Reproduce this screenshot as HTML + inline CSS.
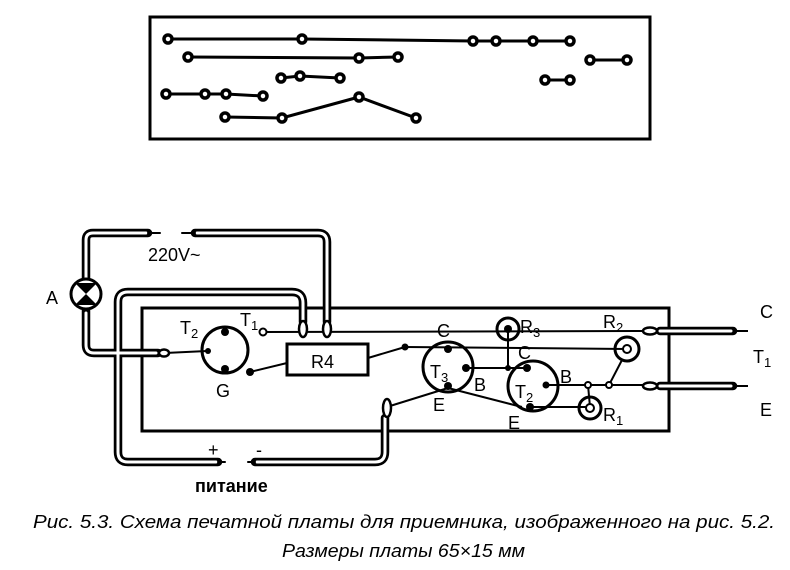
<!DOCTYPE html>
<html><head><meta charset="utf-8"><style>
html,body{margin:0;padding:0;background:#fff}
svg{display:block}
text{font-family:"Liberation Sans",sans-serif;fill:#000}
</style></head><body>
<svg width="790" height="570" viewBox="0 0 790 570" xmlns="http://www.w3.org/2000/svg">
<!-- top board -->
<rect x="150" y="17" width="500" height="122" fill="none" stroke="#000" stroke-width="3"/>
<g stroke="#000" stroke-width="3" fill="none">
<polyline points="168,39 302,39 473,41 496,41 533,41 570,41"/>
<polyline points="188,57 359,58 398,57"/>
<polyline points="590,60 627,60"/>
<polyline points="281,78 300,76 340,78"/>
<polyline points="545,80 570,80"/>
<polyline points="166,94 205,94 226,94 263,96"/>
<polyline points="225,117 282,118 359,97 416,118"/>
</g>
<g fill="#fff" stroke="#000" stroke-width="3.5">
<circle cx="168" cy="39" r="4"/><circle cx="302" cy="39" r="4"/><circle cx="473" cy="41" r="4"/><circle cx="496" cy="41" r="4"/><circle cx="533" cy="41" r="4"/><circle cx="570" cy="41" r="4"/>
<circle cx="188" cy="57" r="4"/><circle cx="359" cy="58" r="4"/><circle cx="398" cy="57" r="4"/>
<circle cx="590" cy="60" r="4"/><circle cx="627" cy="60" r="4"/>
<circle cx="281" cy="78" r="4"/><circle cx="300" cy="76" r="4"/><circle cx="340" cy="78" r="4"/>
<circle cx="545" cy="80" r="4"/><circle cx="570" cy="80" r="4"/>
<circle cx="166" cy="94" r="4"/><circle cx="205" cy="94" r="4"/><circle cx="226" cy="94" r="4"/><circle cx="263" cy="96" r="4"/>
<circle cx="225" cy="117" r="4"/><circle cx="282" cy="118" r="4"/><circle cx="359" cy="97" r="4"/><circle cx="416" cy="118" r="4"/>
</g>

<!-- lower board -->
<rect x="142" y="308" width="527" height="123" fill="none" stroke="#000" stroke-width="3"/>

<!-- thin wires -->
<g stroke="#000" stroke-width="2" fill="none">
<line x1="263" y1="332" x2="650" y2="331"/>
<line x1="165" y1="353" x2="207" y2="351"/>
<line x1="250" y1="372" x2="287" y2="363"/>
<line x1="368" y1="358" x2="405" y2="347"/>
<line x1="405" y1="347" x2="627" y2="349"/>
<line x1="466" y1="368" x2="527" y2="368"/>
<line x1="508" y1="329" x2="508" y2="368"/>
<line x1="546" y1="385" x2="650" y2="385"/>
<line x1="588" y1="385" x2="590" y2="407"/>
<line x1="530" y1="407" x2="590" y2="407"/>
<line x1="609" y1="385" x2="622" y2="360"/>
<line x1="390" y1="406" x2="448" y2="388"/>
<line x1="448" y1="388" x2="522" y2="407"/>
<line x1="735" y1="331" x2="748" y2="331"/>
<line x1="735" y1="386" x2="748" y2="386"/>
</g>

<!-- cables -->
<g fill="none" stroke-linejoin="round" stroke-linecap="round">
<g stroke="#000" stroke-width="8.5">
<path d="M86,279 V240 Q86,233 93,233 H148"/>
<path d="M195,233 H318 Q327,233 327,242 V322"/>
<path d="M86,309 V345 Q86,353 94,353 H158"/>
<path d="M303,322 V303 Q303,292 292,292 H128 Q118,292 118,302 V452 Q118,462 128,462 H218"/>
<path d="M255,462 H375 Q385,462 385,452 V418"/>
<path d="M660,331 H733"/>
<path d="M660,386 H733"/>
</g>
<g stroke="#fff" stroke-width="3">
<path d="M86,279 V240 Q86,233 93,233 H146"/>
<path d="M197,233 H318 Q327,233 327,242 V322"/>
<path d="M86,313 V345 Q86,353 94,353 H156"/>
<path d="M303,322 V303 Q303,292 292,292 H128 Q118,292 118,302 V452 Q118,462 128,462 H216"/>
<path d="M257,462 H375 Q385,462 385,452 V418"/>
<path d="M660,331 H731"/>
<path d="M660,386 H731"/>
</g>
<g stroke="#000" stroke-width="2">
<line x1="148" y1="233" x2="160" y2="233"/>
<line x1="182" y1="233" x2="195" y2="233"/>
<line x1="218" y1="462" x2="225" y2="462"/>
<line x1="248" y1="462" x2="255" y2="462"/>
</g>
</g>
<!-- loops -->
<g fill="#fff" stroke="#000" stroke-width="2.5">
<ellipse cx="303" cy="329" rx="4" ry="8"/>
<ellipse cx="327" cy="329" rx="4" ry="8"/>
<ellipse cx="387" cy="408" rx="4" ry="9"/>
<ellipse cx="650" cy="331" rx="7" ry="3.5"/>
<ellipse cx="650" cy="386" rx="7" ry="3.5"/>
<ellipse cx="164" cy="353" rx="5" ry="3.5"/>
</g>

<!-- lamp -->
<circle cx="86" cy="294" r="15" fill="#fff" stroke="#000" stroke-width="3"/>
<path d="M75,283 L97,283 L86,294 Z M75,305 L97,305 L86,294 Z" fill="#000"/>

<!-- transistors -->
<g fill="none" stroke="#000" stroke-width="3">
<circle cx="225" cy="350" r="23"/>
<circle cx="448" cy="367" r="25"/>
<circle cx="533" cy="386" r="25"/>
<circle cx="508" cy="329" r="11"/>
<circle cx="627" cy="349" r="12"/>
<circle cx="590" cy="408" r="11"/>
</g>
<g fill="#000">
<circle cx="225" cy="332" r="4"/><circle cx="208" cy="351" r="3"/><circle cx="225" cy="369" r="4"/>
<circle cx="250" cy="372" r="4"/><circle cx="405" cy="347" r="3.5"/>
<circle cx="448" cy="349" r="4"/><circle cx="466" cy="368" r="4"/><circle cx="448" cy="386" r="4"/>
<circle cx="527" cy="368" r="4"/><circle cx="546" cy="385" r="3.5"/><circle cx="530" cy="407" r="4"/>
<circle cx="508" cy="368" r="3"/><circle cx="508" cy="329" r="4"/>
</g>
<g fill="#fff" stroke="#000" stroke-width="2">
<circle cx="263" cy="332" r="3.5"/>
<circle cx="588" cy="385" r="3"/><circle cx="609" cy="385" r="3"/>
<circle cx="627" cy="349" r="4"/><circle cx="590" cy="408" r="4"/>
</g>
<rect x="287" y="344" width="81" height="31" fill="#fff" stroke="#000" stroke-width="3"/>

<!-- labels -->
<g font-size="18">
<text x="148" y="261">220V~</text>
<text x="46" y="304">A</text>
<text x="180" y="334">T<tspan font-size="13" dy="4">2</tspan></text>
<text x="240" y="326">T<tspan font-size="13" dy="4">1</tspan></text>
<text x="216" y="397">G</text>
<text x="311" y="368">R4</text>
<text x="437" y="337">C</text>
<text x="430" y="378">T<tspan font-size="13" dy="4">3</tspan></text>
<text x="474" y="391">B</text>
<text x="433" y="411">E</text>
<text x="520" y="333">R<tspan font-size="13" dy="4">3</tspan></text>
<text x="518" y="359">C</text>
<text x="515" y="398">T<tspan font-size="13" dy="4">2</tspan></text>
<text x="560" y="383">B</text>
<text x="508" y="429">E</text>
<text x="603" y="328">R<tspan font-size="13" dy="4">2</tspan></text>
<text x="603" y="421">R<tspan font-size="13" dy="4">1</tspan></text>
<text x="760" y="318">C</text>
<text x="753" y="363">T<tspan font-size="13" dy="4">1</tspan></text>
<text x="760" y="416">E</text>
<text x="208" y="456">+</text>
<text x="256" y="456">-</text>
<text x="195" y="492" font-weight="bold">питание</text>
</g>
<g font-size="18" font-style="italic">
<text x="33" y="528" textLength="742" lengthAdjust="spacingAndGlyphs">Рис. 5.3. Схема печатной платы для приемника, изображенного на рис. 5.2.</text>
<text x="282" y="557" textLength="243" lengthAdjust="spacingAndGlyphs">Размеры платы 65×15 мм</text>
</g>
</svg>
</body></html>
